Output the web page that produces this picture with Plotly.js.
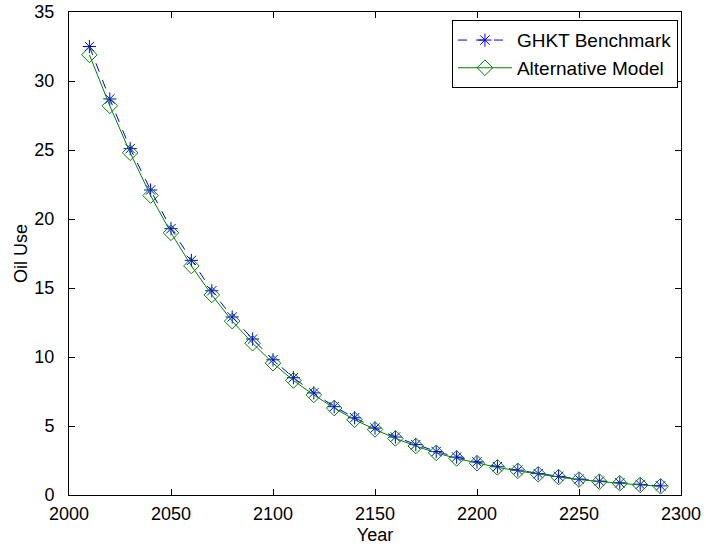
<!DOCTYPE html>
<html>
<head>
<meta charset="utf-8">
<script src="https://cdn.plot.ly/plotly-3.0.1.min.js"></script>
<style>html,body{margin:0;padding:0;background:#fff;}#chart{width:706px;height:548px;}</style>
</head>
<body>
<div id="chart"></div>
<script>
const years = [2010,2020,2030,2040,2050,2060,2070,2080,2090,2100,2110,2120,2130,2140,2150,2160,2170,2180,2190,2200,2210,2220,2230,2240,2250,2260,2270,2280,2290];
const ghkt = [32.5,28.7,25.1,22.1,19.3,17.0,14.8,12.9,11.3,9.8,8.5,7.4,6.4,5.6,4.85,4.2,3.65,3.15,2.75,2.4,2.05,1.8,1.55,1.35,1.15,1.0,0.88,0.76,0.66];
const alt = [31.9,28.2,24.8,21.7,19.0,16.6,14.5,12.6,11.0,9.55,8.3,7.25,6.3,5.45,4.75,4.1,3.55,3.05,2.65,2.3,2.0,1.75,1.5,1.3,1.12,0.97,0.85,0.73,0.63];
const xTicks = [2000,2050,2100,2150,2200,2250,2300];
const yTicks = [0,5,10,15,20,25,30,35];
const seriesNames = ['GHKT Benchmark','Alternative Model'];

const font = {family:'Liberation Sans, Arial, sans-serif', size:18, color:'#000'};
const legendFont = {family:'Liberation Sans, Arial, sans-serif', size:19, color:'#000'};
const traces = [
  {x: years, y: ghkt, name: seriesNames[0], type:'scatter', mode:'lines+markers',
   line:{color:'#0000ff', width:1, dash:'dash'},
   marker:{symbol:'asterisk-open', size:11, color:'#0000ff', line:{color:'#0000ff', width:1}}},
  {x: years, y: alt, name: seriesNames[1], type:'scatter', mode:'lines+markers',
   line:{color:'#008000', width:1},
   marker:{symbol:'diamond-open', size:12, color:'#008000', line:{color:'#008000', width:1}}}
];
const axisCommon = {showline:true, linecolor:'#000', linewidth:1, mirror:'ticks', ticks:'inside',
  ticklen:6, tickcolor:'#000', showgrid:false, zeroline:false, tickfont:font};
const layout = {
  width:706, height:548, paper_bgcolor:'#fff', plot_bgcolor:'#fff', font:font,
  margin:{l:69, r:25, t:12, b:53},
  showlegend:true,
  legend:{x:0.995, y:0.983, xanchor:'right', yanchor:'top', bordercolor:'#000', borderwidth:1,
    bgcolor:'#fff', font:legendFont, tracegroupgap:0, itemwidth:54},
  xaxis: Object.assign({}, axisCommon, {range:[2000,2300], tickvals:xTicks, ticktext:xTicks.map(String),
    ticklabelstandoff:2, title:{text:'Year', font:font, standoff:5}}),
  yaxis: Object.assign({}, axisCommon, {range:[0,35], tickvals:yTicks, ticktext:yTicks.map(String),
    ticklabelstandoff:10, title:{text:'Oil Use', font:font, standoff:2}})
};
Plotly.newPlot('chart', traces, layout, {displayModeBar:false, staticPlot:true});
</script>
</body>
</html>
